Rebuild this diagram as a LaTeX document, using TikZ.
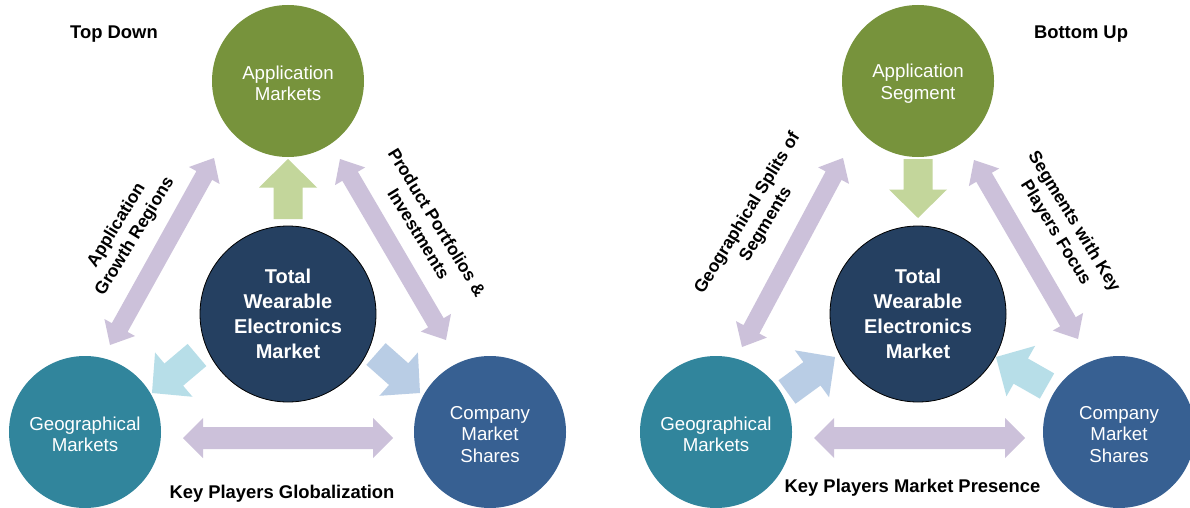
\documentclass[tikz,border=0pt]{standalone}
\usepackage{fontspec}
\setmainfont{Liberation Sans}
\usetikzlibrary{calc}
\definecolor{appgreen}{HTML}{77933C}
\definecolor{lightgreen}{HTML}{C3D69B}
\definecolor{navyc}{HTML}{254061}
\definecolor{geoteal}{HTML}{31859C}
\definecolor{compblue}{HTML}{376092}
\definecolor{lav}{HTML}{CCC1DA}
\definecolor{lcyan}{HTML}{B7DEE8}
\definecolor{lblue}{HTML}{B9CDE5}
% single fat arrow: style, tail, tip
\newcommand\singlefat[3]{%
 \fill[#1] let \p1=(#2), \p2=(#3), \n1={atan2(\y2-\y1,\x2-\x1)} in
  ($(\p1)+(\n1+90:14.5pt)$) -- ($(\p2)+(\n1+180:28.5pt)+(\n1+90:14.5pt)$)
  -- ($(\p2)+(\n1+180:28.5pt)+(\n1+90:29pt)$) -- (\p2)
  -- ($(\p2)+(\n1+180:28.5pt)+(\n1-90:29pt)$) -- ($(\p2)+(\n1+180:28.5pt)+(\n1-90:14.5pt)$)
  -- ($(\p1)+(\n1-90:14.5pt)$) -- cycle;}
% double fat arrow: style, end1, end2, shaft half width, head half width, head length
\newcommand\doublefat[6]{%
 \fill[#1] let \p1=(#2), \p2=(#3), \n1={atan2(\y2-\y1,\x2-\x1)} in
  (\p1) -- ($(\p1)+(\n1:#6)+(\n1+90:#5)$) -- ($(\p1)+(\n1:#6)+(\n1+90:#4)$)
  -- ($(\p2)+(\n1+180:#6)+(\n1+90:#4)$) -- ($(\p2)+(\n1+180:#6)+(\n1+90:#5)$)
  -- (\p2) -- ($(\p2)+(\n1+180:#6)+(\n1-90:#5)$) -- ($(\p2)+(\n1+180:#6)+(\n1-90:#4)$)
  -- ($(\p1)+(\n1:#6)+(\n1-90:#4)$) -- ($(\p1)+(\n1:#6)+(\n1-90:#5)$) -- cycle;}
\tikzset{
 circ/.style={circle, inner sep=0pt, minimum size=152pt},
 ctext/.style={inner sep=0pt, text=white, align=center, font=\fontsize{18.7}{21.5}\selectfont},
 totc/.style={circle, inner sep=0pt, minimum size=176pt, fill=navyc, draw=black,
   line width=0.8pt, text=white, align=center, font=\fontsize{20}{24.8}\selectfont\bfseries},
 ttl/.style={inner sep=0pt, font=\fontsize{18.4}{22}\selectfont\bfseries},
 rlab/.style={inner sep=0pt, align=center, font=\fontsize{17.5}{21.5}\selectfont\bfseries},
}
\begin{document}
\begin{tikzpicture}[x=1pt,y=-1pt]
\fill[white] (0,0) rectangle (1190,508);
\useasboundingbox (0,0) rectangle (1190,508);
\clip (0,0) rectangle (1190,508);
% ---------- coordinates: left (Top Down)
\coordinate (LupA) at (288,219);
\coordinate (LupB) at (288,159);
\coordinate (LgeoA) at (197,355);
\coordinate (LgeoB) at (152,393);
\coordinate (LcomA) at (376,354);
\coordinate (LcomB) at (420,393);
\coordinate (LdlA) at (110,345);
\coordinate (LdlB) at (214,158);
\coordinate (LdrA) at (340,159);
\coordinate (LdrB) at (446,340);
\coordinate (LhA) at (183,438);
\coordinate (LhB) at (393,438);
% ---------- coordinates: right (Bottom Up)
\coordinate (RdnA) at (918,159);
\coordinate (RdnB) at (918,218);
\coordinate (RgeoA) at (787,392);
\coordinate (RgeoB) at (835,357);
\coordinate (RcomA) at (1047,386);
\coordinate (RcomB) at (996,357);
\coordinate (RdlA) at (742,347);
\coordinate (RdlB) at (843,158);
\coordinate (RdrA) at (974,160);
\coordinate (RdrB) at (1078,339);
\coordinate (RhA) at (814,438);
\coordinate (RhB) at (1025,438);
% ---------- arrows
\singlefat{lightgreen}{LupA}{LupB}
\singlefat{lcyan}{LgeoA}{LgeoB}
\singlefat{lblue}{LcomA}{LcomB}
\doublefat{lav}{LdlA}{LdlB}{9pt}{17.5pt}{20pt}
\doublefat{lav}{LdrA}{LdrB}{9pt}{17.5pt}{20pt}
\doublefat{lav}{LhA}{LhB}{11pt}{20pt}{20pt}
\singlefat{lightgreen}{RdnA}{RdnB}
\singlefat{lblue}{RgeoA}{RgeoB}
\singlefat{lcyan}{RcomA}{RcomB}
\doublefat{lav}{RdlA}{RdlB}{9pt}{17.5pt}{20pt}
\doublefat{lav}{RdrA}{RdrB}{9pt}{17.5pt}{20pt}
\doublefat{lav}{RhA}{RhB}{11pt}{20pt}{20pt}
% ---------- circles left
\node[circ, fill=appgreen] (Lapp) at (288,81) {};
\node[ctext] (LappT) at ([yshift=-2.5pt]Lapp.center) {Application\\Markets};
\node[totc] (Ltot) at (288,314) {Total\\Wearable\\Electronics\\Market};
\node[circ, fill=geoteal] (Lgeo) at (85,432) {};
\node[ctext] (LgeoT) at ([yshift=-2.5pt]Lgeo.center) {Geographical\\Markets};
\node[circ, fill=compblue] (Lcom) at (490,432) {};
\node[ctext] (LcomT) at ([yshift=-2.5pt]Lcom.center) {Company\\Market\\Shares};
% ---------- circles right
\node[circ, fill=appgreen] (Rapp) at (918,81) {};
\node[ctext] (RappT) at ([yshift=-2.5pt]Rapp.center) {Application\\Segment};
\node[totc] (Rtot) at (918,314) {Total\\Wearable\\Electronics\\Market};
\node[circ, fill=geoteal] (Rgeo) at (716,432) {};
\node[ctext] (RgeoT) at ([yshift=-2.5pt]Rgeo.center) {Geographical\\Markets};
\node[circ, fill=compblue] (Rcom) at (1119,432) {};
\node[ctext] (RcomT) at ([yshift=-2.5pt]Rcom.center) {Company\\Market\\Shares};
% ---------- labels
\node[ttl] (tdown) at (114,34) {Top Down};
\node[ttl] (bup) at (1081,34) {Bottom Up};
\node[ttl] (kpg) at (282,494) {Key Players Globalization};
\node[ttl] (kpm) at (912.5,488) {Key Players Market Presence};
\node[rlab, rotate=58.5] (lagr) at (126,231) {Application\\Growth Regions};
\node[rlab, rotate=-58.5] (lppi) at (428,228) {Product Portfolios \&\\Investments};
\node[rlab, rotate=58.5] (rgss) at (757,219) {Geographical Splits of\\Segments};
\node[rlab, rotate=-58.5] (rskp) at (1064.5,227.5) {Segments with Key\\Players Focus};
\end{tikzpicture}
\end{document}
